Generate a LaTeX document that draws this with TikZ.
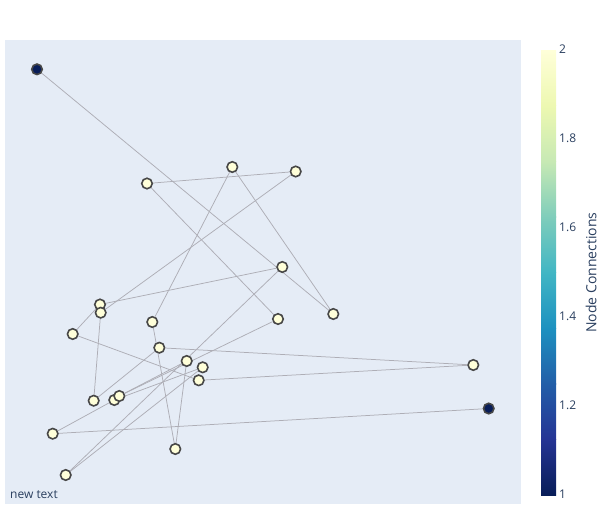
\documentclass[tikz,border=0pt]{standalone}
\usepackage{fontspec}
\setmainfont{Open Sans}
\usetikzlibrary{backgrounds}
\definecolor{plotbg}{HTML}{E5ECF6}
\definecolor{fontc}{HTML}{2A3F5F}
\definecolor{edgec}{HTML}{AEAEB6}
\definecolor{yl0}{HTML}{081D58}
\definecolor{yl1}{HTML}{253494}
\definecolor{yl2}{HTML}{225EA8}
\definecolor{yl3}{HTML}{1D91C0}
\definecolor{yl4}{HTML}{41B6C4}
\definecolor{yl5}{HTML}{7FCDBB}
\definecolor{yl6}{HTML}{C7E9B4}
\definecolor{yl7}{HTML}{EDF8B1}
\definecolor{yl8}{HTML}{FFFFD9}
\tikzset{
	twolink/.style = {circle, draw = black!72, line width = 1.6pt, fill = yl8, minimum size = 10.5pt, inner sep = 0pt},
	onelink/.style = {twolink, fill = yl0},
	link/.style = {draw = edgec, line width = 0.75pt},
	ticklabel/.style = {anchor = west, inner sep = 0pt, text = fontc, font = \fontsize{12}{12}\selectfont},
}
\begin{document}
\begin{tikzpicture}[x = 1pt, y = -1pt]
		\useasboundingbox (0,0) rectangle (613,525);
		\foreach \n/\x/\y in {B/147/183.5, C/232.3/167, D/295.7/171.5, E/282.3/267, F/333.3/314, G/278/319,
			H/100/304.5, I/100.7/312.7, J/72.7/334, K/152.3/322, L/159.3/347.7, M/186.7/361,
			N/202.7/367.3, O/198.7/380.3, P/473.3/365, R/93.7/400.7, S/114.3/400, T/119.3/396,
			U/52.7/433.7, V/175.3/449, W/65.7/475}{
			\node[twolink] (\n) at (\x, \y) {};
			}
		\node[onelink] (A) at (37, 69.3) {};
		\node[onelink] (Q) at (488.7, 408.5) {};
		\begin{scope}[on background layer]
			\fill[plotbg] (5,39.5) rectangle (521,504);
			\foreach \a/\b in {A/F, C/F, C/K, B/D, D/I, B/G, E/H, E/W, J/H, I/R, R/L,
				L/P, K/V, V/M, O/P, J/O, Q/U, U/S, G/T, W/N, S/N, T/M}{
				\draw[link] (\a) -- (\b);
				}
		\end{scope}
		\foreach \i [evaluate = \i as \j using int(\i + 1)] in {0,...,7}{
			\shade[bottom color = yl\i, top color = yl\j] (541, 495 - \i*55.625 + 0.3) rectangle (556, 495 - \j*55.625);
			}
		\foreach \v/\y [count = \k] in {1/494.5, 1.2/405.5, 1.4/316.5, 1.6/227.5, 1.8/138.5, 2/49.5}{
			\node[ticklabel] (tick\k) at (559, \y) {\v};
			}
		\node[rotate = 90, text = fontc, font = \fontsize{14}{14}\selectfont] (cbtitle) at (591, 272.5) {Node Connections};
		\node[anchor = base west, inner sep = 0pt, text = fontc, font = \fontsize{12}{12}\selectfont] (note) at (10, 498.5) {new text};
\end{tikzpicture}
\end{document}
